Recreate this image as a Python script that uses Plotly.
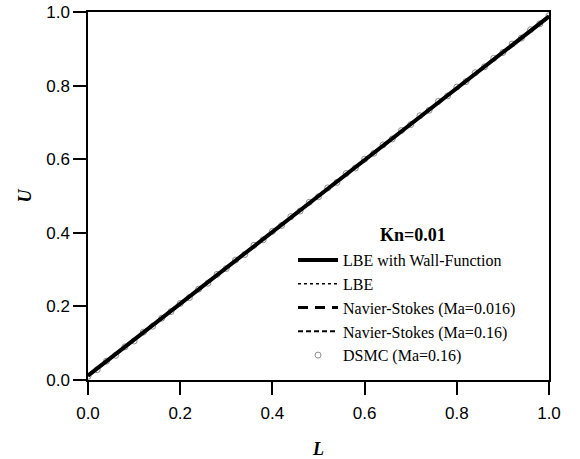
import plotly.graph_objects as go

# ---- data ----
L_line = [0.0, 0.25, 0.5, 0.75, 1.0]
U_lbe_wf = [0.012, 0.256, 0.500, 0.744, 0.988]
U_lbe = [0.011, 0.255, 0.500, 0.745, 0.989]
U_ns_016 = [0.012, 0.256, 0.500, 0.744, 0.988]
U_ns_16 = [0.012, 0.256, 0.500, 0.744, 0.988]

L_dsmc = [0.00, 0.02, 0.04, 0.06, 0.08, 0.10, 0.12, 0.14, 0.16, 0.18,
          0.20, 0.22, 0.24, 0.26, 0.28, 0.30, 0.32, 0.34, 0.36, 0.38,
          0.40, 0.42, 0.44, 0.46, 0.48, 0.50, 0.52, 0.54, 0.56, 0.58,
          0.60, 0.62, 0.64, 0.66, 0.68, 0.70, 0.72, 0.74, 0.76, 0.78,
          0.80, 0.82, 0.84, 0.86, 0.88, 0.90, 0.92, 0.94, 0.96, 0.98, 1.00]
U_dsmc = [0.010, 0.028, 0.051, 0.067, 0.090, 0.106, 0.130, 0.146, 0.168, 0.186,
          0.208, 0.224, 0.247, 0.263, 0.287, 0.303, 0.326, 0.341, 0.366, 0.381,
          0.404, 0.420, 0.444, 0.459, 0.483, 0.498, 0.522, 0.537, 0.561, 0.576,
          0.600, 0.616, 0.639, 0.655, 0.678, 0.694, 0.718, 0.733, 0.757, 0.772,
          0.796, 0.811, 0.835, 0.851, 0.874, 0.890, 0.913, 0.929, 0.952, 0.968, 0.990]

tick_vals = [0.0, 0.2, 0.4, 0.6, 0.8, 1.0]
tick_text = ["0.0", "0.2", "0.4", "0.6", "0.8", "1.0"]

W, H = 580, 459
ML, MR, MT, MB = 88, 31, 12, 79
PW, PH = W - ML - MR, H - MT - MB

def px_x(page_x):
    return (page_x - ML) / PW

def px_y(page_y):
    return (H - MB - page_y) / PH

fig = go.Figure()

fig.add_trace(go.Scatter(x=L_dsmc, y=U_dsmc, mode="markers", name="DSMC (Ma=0.16)",
                         marker=dict(symbol="circle-open", size=6, color="#8c8c8c",
                                     line=dict(width=1, color="#8c8c8c")),
                         legendrank=5))
fig.add_trace(go.Scatter(x=L_line, y=U_ns_16, mode="lines", name="Navier-Stokes (Ma=0.16)",
                         line=dict(color="black", width=2, dash="5px,3px"),
                         legendrank=4))
fig.add_trace(go.Scatter(x=L_line, y=U_ns_016, mode="lines", name="Navier-Stokes (Ma=0.016)",
                         line=dict(color="black", width=3, dash="10px,7px"),
                         legendrank=3))
fig.add_trace(go.Scatter(x=L_line, y=U_lbe, mode="lines", name="LBE",
                         line=dict(color="black", width=1.5, dash="dot"),
                         legendrank=2))
fig.add_trace(go.Scatter(x=L_line, y=U_lbe_wf, mode="lines", name="LBE with Wall-Function",
                         line=dict(color="black", width=4),
                         legendrank=1))

axis_common = dict(
    range=[0, 1], tickvals=tick_vals, ticktext=tick_text,
    ticks="outside", ticklen=13, tickwidth=2, tickcolor="black",
    showline=True, linecolor="black", linewidth=1.5, mirror=True,
    showgrid=False, zeroline=False, automargin=False,
    tickfont=dict(family="Liberation Sans, Arial, sans-serif", size=17, color="black"),
)

fig.update_xaxes(**axis_common, ticklabelstandoff=4,
                 title=dict(text="<b><i>L</i></b>", standoff=20,
                            font=dict(family="Liberation Serif, Times New Roman, serif",
                                      size=18, color="black")))
fig.update_yaxes(**axis_common,
                 title=dict(text="<b><i>U</i></b>", standoff=10,
                            font=dict(family="Liberation Serif, Times New Roman, serif",
                                      size=18, color="black")))

fig.add_annotation(x=px_x(413), y=px_y(235), xref="paper", yref="paper",
                   text="<b>Kn=0.01</b>", showarrow=False,
                   font=dict(family="Liberation Serif, Times New Roman, serif", size=18,
                             color="black"),
                   xanchor="center", yanchor="middle")

fig.update_layout(
    width=W, height=H,
    margin=dict(l=ML, r=MR, t=MT, b=MB),
    paper_bgcolor="white", plot_bgcolor="white",
    showlegend=True,
    legend=dict(x=px_x(293), y=px_y(243), xanchor="left", yanchor="top",
                bgcolor="rgba(0,0,0,0)", borderwidth=0, itemwidth=40,
                font=dict(family="Liberation Serif, Times New Roman, serif", size=16,
                          color="black")),
)

fig.write_html("out.html", config={"displayModeBar": False},
               post_script="document.body.style.margin='0';")
